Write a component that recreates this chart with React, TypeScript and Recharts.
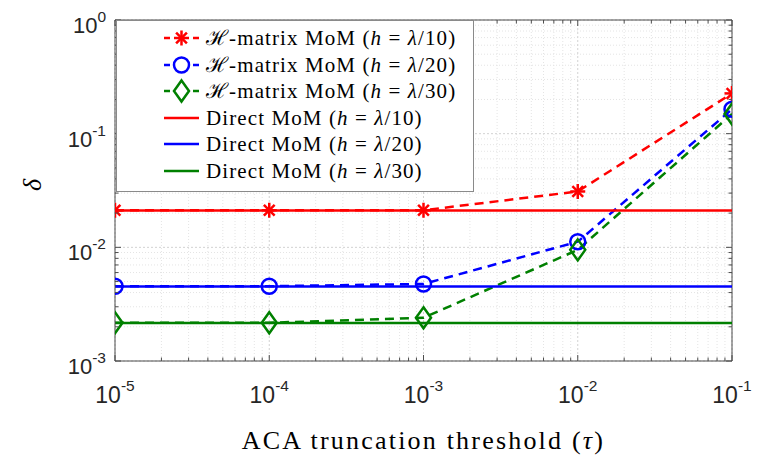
import React from "react";
import { CartesianGrid, Line, LineChart, ReferenceLine, XAxis, YAxis } from "recharts";

// ACA threshold values (x) and error delta (y)
const tau = [1e-5, 1e-4, 1e-3, 1e-2, 1e-1];
const hmatL10 = [0.0212, 0.0212, 0.0212, 0.031, 0.226];
const hmatL20 = [0.00455, 0.00455, 0.00476, 0.0112, 0.164];
const hmatL30 = [0.00217, 0.00217, 0.0024, 0.0095, 0.149];

const directTau = [1e-5, 1e-1];
const directL10 = [0.0211, 0.0211];
const directL20 = [0.00452, 0.00452];
const directL30 = [0.00216, 0.00216];

const xMajor = [1e-5, 1e-4, 1e-3, 1e-2, 1e-1];
const yMajor = [1e-3, 1e-2, 1e-1, 1];
const xLabels = ["-5", "-4", "-3", "-2", "-1"];
const yLabels = ["-3", "-2", "-1", "0"];

const minorOf = (majors: number[]) =>
  majors.slice(0, -1).flatMap((d) => [2, 3, 4, 5, 6, 7, 8, 9].map((m) => m * d));
const xMinor = minorOf(xMajor);
const yMinor = minorOf(yMajor);

const W = 757;
const H = 460;
const M = { top: 20, right: 25, left: 0, bottom: 0 };
const PLOT_TOP = M.top;
const PLOT_RIGHT = W - M.right;
const AX = "#4d4d4d";
const RED = "#ff0000";
const BLUE = "#0000ff";
const GREEN = "#008000";

const rows = (xs: number[], ys: number[]) => xs.map((x, i) => ({ x, y: ys[i] }));

const isMajor = (v: number) => Math.abs(Math.log10(v) - Math.round(Math.log10(v))) < 1e-6;

function Star({ cx, cy, color }: { cx: number; cy: number; color: string }) {
  const r = 7.5;
  const d = r * 0.72;
  return (
    <g stroke={color} strokeWidth={2.5} strokeLinecap="butt">
      <line x1={cx - r} y1={cy} x2={cx + r} y2={cy} />
      <line x1={cx} y1={cy - r} x2={cx} y2={cy + r} />
      <line x1={cx - d} y1={cy - d} x2={cx + d} y2={cy + d} />
      <line x1={cx - d} y1={cy + d} x2={cx + d} y2={cy - d} />
    </g>
  );
}

function Circle({ cx, cy, color }: { cx: number; cy: number; color: string }) {
  return <circle cx={cx} cy={cy} r={7.5} fill="none" stroke={color} strokeWidth={2.5} />;
}

function Diamond({ cx, cy, color }: { cx: number; cy: number; color: string }) {
  const w = 7.5;
  const h = 10.5;
  return (
    <path
      d={`M${cx},${cy - h}L${cx + w},${cy}L${cx},${cy + h}L${cx - w},${cy}Z`}
      fill="none"
      stroke={color}
      strokeWidth={2.5}
      strokeLinejoin="miter"
    />
  );
}

const markers: Record<string, typeof Star> = { star: Star, circle: Circle, diamond: Diamond };

const series = [
  { name: "hmat10", data: rows(tau, hmatL10), color: RED, dashed: true, marker: "star", label: "10" },
  { name: "hmat20", data: rows(tau, hmatL20), color: BLUE, dashed: true, marker: "circle", label: "20" },
  { name: "hmat30", data: rows(tau, hmatL30), color: GREEN, dashed: true, marker: "diamond", label: "30" },
  { name: "direct10", data: rows(directTau, directL10), color: RED, dashed: false, marker: "", label: "10" },
  { name: "direct20", data: rows(directTau, directL20), color: BLUE, dashed: false, marker: "", label: "20" },
  { name: "direct30", data: rows(directTau, directL30), color: GREEN, dashed: false, marker: "", label: "30" },
];

function XTick(props: any) {
  const { x, y, payload } = props;
  const v = payload.value as number;
  const major = isMajor(v);
  const len = major ? 6 : 3.5;
  const i = xMajor.findIndex((m) => Math.abs(m - v) / m < 1e-6);
  return (
    <g>
      <line x1={x} y1={y} x2={x} y2={y - len} stroke={AX} />
      <line x1={x} y1={PLOT_TOP} x2={x} y2={PLOT_TOP + len} stroke={AX} />
      {major && i >= 0 && (
        <text x={x} y={y + 42} textAnchor="middle" fill="#262626" fontFamily="Liberation Sans, Arial, sans-serif" fontSize={23}>
          <tspan>10</tspan>
          <tspan dy={-12} fontSize={15.5}>{xLabels[i]}</tspan>
        </text>
      )}
    </g>
  );
}

function YTick(props: any) {
  const { x, y, payload } = props;
  const v = payload.value as number;
  const major = isMajor(v);
  const len = major ? 6 : 3.5;
  const i = yMajor.findIndex((m) => Math.abs(m - v) / m < 1e-6);
  return (
    <g>
      <line x1={x} y1={y} x2={x + len} y2={y} stroke={AX} />
      <line x1={PLOT_RIGHT} y1={y} x2={PLOT_RIGHT - len} y2={y} stroke={AX} />
      {major && i >= 0 && (
        <text x={x - 9} y={y + 13} textAnchor="end" fill="#262626" fontFamily="Liberation Sans, Arial, sans-serif" fontSize={22}>
          <tspan>10</tspan>
          <tspan dy={-11} fontSize={15.5}>{yLabels[i]}</tspan>
        </text>
      )}
    </g>
  );
}

function LegendSample({ color, dashed, marker }: { color: string; dashed: boolean; marker: string }) {
  const Mk = marker ? markers[marker] : null;
  return (
    <svg width={38} height={26} style={{ display: "block" }}>
      {dashed ? (
        <g stroke={color} strokeWidth={2.5}>
          <line x1={1} y1={13} x2={7} y2={13} />
          <line x1={30} y1={13} x2={36} y2={13} />
        </g>
      ) : (
        <line x1={1} y1={13} x2={36} y2={13} stroke={color} strokeWidth={2.5} />
      )}
      {Mk && <Mk cx={18.5} cy={13} color={color} />}
    </svg>
  );
}

export default function App() {
  const serif = "'Liberation Serif', 'Times New Roman', serif";
  return (
    <div style={{ position: "absolute", left: 0, top: 0, width: W, height: H, background: "#fff" }}>
      <LineChart width={W} height={H} margin={M}>
        <CartesianGrid verticalValues={xMinor} horizontalValues={yMinor} stroke="#e4e4e4" strokeDasharray="1 2" />
        <CartesianGrid verticalValues={xMajor} horizontalValues={yMajor} stroke="#d2d2d2" strokeDasharray="2 2" />
        <XAxis
          dataKey="x"
          type="number"
          scale="log"
          domain={[1e-5, 1e-1]}
          ticks={[...xMajor, ...xMinor]}
          interval={0}
          height={99}
          tickLine={false}
          tickSize={0}
          tickMargin={0}
          axisLine={{ stroke: AX }}
          tick={XTick}
          allowDataOverflow
        />
        <YAxis
          type="number"
          scale="log"
          domain={[1e-3, 1]}
          ticks={[...yMajor, ...yMinor]}
          interval={0}
          width={115}
          tickLine={false}
          tickSize={0}
          tickMargin={0}
          axisLine={{ stroke: AX }}
          tick={YTick}
          allowDataOverflow
        />
        <ReferenceLine y={1} stroke={AX} />
        <ReferenceLine x={0.1} stroke={AX} />
        {series.map((s) => {
          const Mk = s.marker ? markers[s.marker] : null;
          return (
            <Line
              key={s.name}
              data={s.data}
              dataKey="y"
              type="linear"
              stroke={s.color}
              strokeWidth={2.5}
              strokeDasharray={s.dashed ? "9 6" : undefined}
              dot={
                Mk
                  ? (p: any) => <Mk key={`${s.name}-${p.index}`} cx={p.cx} cy={p.cy} color={s.color} />
                  : false
              }
              activeDot={false}
              isAnimationActive={false}
            />
          );
        })}
      </LineChart>

      {/* legend box */}
      <div
        style={{
          position: "absolute",
          left: 116,
          top: 20,
          width: 356,
          height: 170,
          border: "1px solid #8a8a8a",
          background: "#fff",
          fontFamily: serif,
          fontSize: 21,
          letterSpacing: 1.1,
          color: "#000",
        }}
      >
        {series.map((s, i) => (
          <div
            key={s.name}
            style={{ position: "absolute", left: 46, top: 4 + i * 26.5, height: 26, display: "flex", alignItems: "center", whiteSpace: "nowrap" }}
          >
            <LegendSample color={s.color} dashed={s.dashed} marker={s.marker} />
            <span style={{ marginLeft: 5, lineHeight: "26px" }}>
              {s.dashed ? "\u210B-matrix MoM (" : "Direct MoM ("}
              <i>h</i>
              {" = "}
              <i>λ</i>
              {`/${s.label})`}
            </span>
          </div>
        ))}
      </div>

      {/* axis titles */}
      <div
        style={{
          position: "absolute",
          left: 115,
          width: 617,
          top: 427,
          textAlign: "center",
          fontFamily: serif,
          fontSize: 26,
          letterSpacing: 2.2,
          lineHeight: "28px",
          color: "#000",
        }}
      >
        ACA truncation threshold (<i>τ</i>)
      </div>
      <div
        style={{
          position: "absolute",
          left: 20,
          top: 172,
          width: 26,
          height: 26,
          lineHeight: "26px",
          textAlign: "center",
          fontFamily: serif,
          fontSize: 26,
          fontStyle: "italic",
          transform: "rotate(-90deg)",
          color: "#000",
        }}
      >
        δ
      </div>
    </div>
  );
}
